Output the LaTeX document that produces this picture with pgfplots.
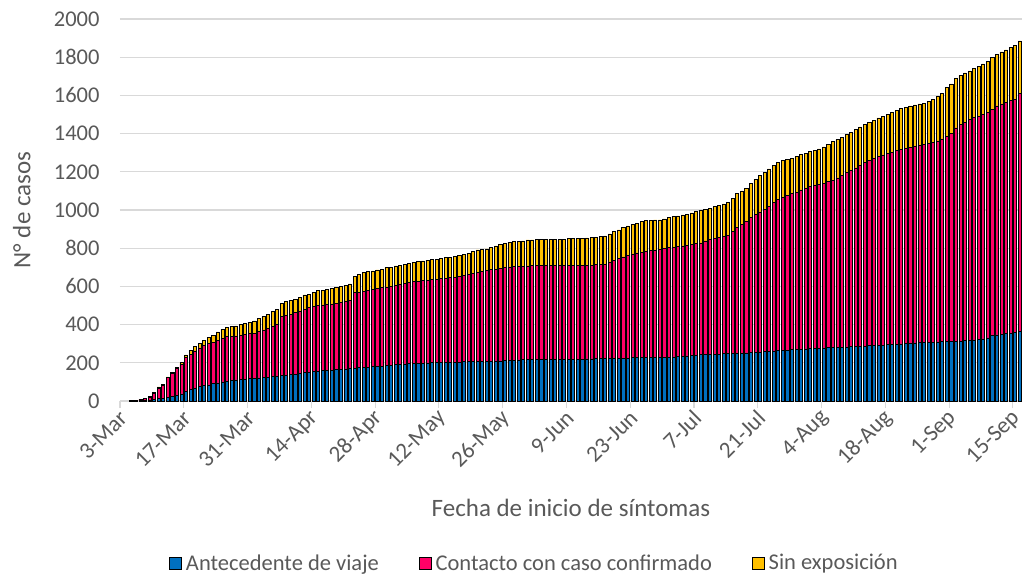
\documentclass[border=0pt]{standalone}
\usepackage{fontspec}
\setmainfont{Carlito}
\usepackage{pgfplots}
\usepackage{pgfplotstable}
\pgfplotsset{compat=1.18}
\definecolor{cblue}{HTML}{0070C0}
\definecolor{cpink}{HTML}{FF0066}
\definecolor{cyel}{HTML}{FFC000}
\definecolor{gridgrey}{HTML}{D9D9D9}
\definecolor{txtgrey}{HTML}{595959}
% d = days since 3-Mar; b = Antecedente de viaje; r = Contacto con caso confirmado; s = Sin exposicion
\pgfplotstableread{
d b r s
0 0 0 0
1 0 0 0
2 0 1 0
3 0 2 1
4 1 7 2
5 2 11 2
6 4 15 4
7 8 32 5
8 12 56 6
9 14 66 6
10 18 104 4
11 23 121 4
12 30 140 4
13 37 155 8
14 49 178 14
15 60 184 19
16 68 194 22
17 75 203 24
18 80 210 28
19 84 216 33
20 90 217 38
21 95 223 44
22 100 228 47
23 103 233 48
24 107 233 49
25 110 231 52
26 113 233 55
27 115 234 58
28 118 236 57
29 119 236 64
30 121 242 70
31 122 250 69
32 125 255 74
33 127 262 79
34 130 273 77
35 132 309 70
36 135 315 70
37 138 317 70
38 141 321 72
39 145 326 72
40 148 332 75
41 150 340 70
42 154 343 70
43 157 344 77
44 159 344 78
45 160 346 79
46 162 346 80
47 164 347 85
48 166 350 86
49 168 354 85
50 169 359 85
51 172 395 87
52 174 396 93
53 176 399 97
54 178 402 97
55 180 404 97
56 182 408 96
57 183 410 98
58 185 412 101
59 188 414 98
60 190 417 100
61 192 418 98
62 194 422 100
63 195 425 101
64 196 428 102
65 197 431 101
66 198 432 103
67 199 433 106
68 200 435 107
69 201 436 106
70 201 439 107
71 202 441 107
72 202 444 106
73 203 445 108
74 204 448 109
75 205 453 110
76 206 458 109
77 207 463 112
78 208 466 117
79 208 470 116
80 209 475 112
81 209 479 117
82 210 481 121
83 210 485 125
84 211 489 125
85 212 490 127
86 213 490 131
87 215 489 131
88 216 490 132
89 217 490 136
90 218 490 135
91 218 491 138
92 218 492 137
93 218 493 137
94 218 493 137
95 218 493 137
96 218 493 137
97 218 493 137
98 218 493 138
99 219 492 139
100 219 492 140
101 219 493 140
102 220 492 142
103 220 492 144
104 221 492 144
105 221 494 145
106 222 495 147
107 223 505 147
108 224 514 149
109 224 521 151
110 225 529 155
111 225 537 155
112 226 544 155
113 226 549 156
114 227 553 159
115 227 557 160
116 228 560 158
117 228 562 158
118 229 566 153
119 229 570 154
120 230 572 158
121 231 574 160
122 232 576 161
123 234 578 162
124 236 580 163
125 238 582 165
126 240 584 167
127 242 586 169
128 243 595 167
129 244 601 165
130 245 607 165
131 246 610 169
132 247 613 172
133 248 618 174
134 249 641 171
135 250 660 175
136 251 674 175
137 252 688 175
138 253 707 180
139 254 721 185
140 256 734 190
141 258 747 190
142 260 760 195
143 262 778 195
144 263 792 195
145 264 801 193
146 266 809 190
147 268 817 187
148 270 823 186
149 272 833 185
150 273 842 183
151 275 850 181
152 276 855 179
153 277 858 185
154 278 862 190
155 279 869 197
156 280 877 201
157 281 887 202
158 282 898 202
159 283 912 200
160 284 921 200
161 285 935 200
162 286 949 200
163 287 963 198
164 289 971 200
165 290 980 200
166 291 989 202
167 293 995 204
168 294 1001 207
169 296 1006 210
170 297 1013 212
171 299 1017 214
172 300 1022 215
173 302 1026 217
174 304 1031 215
175 305 1035 215
176 306 1038 216
177 307 1042 218
178 308 1046 224
179 309 1053 233
180 310 1062 240
181 311 1074 255
182 312 1088 260
183 313 1117 260
184 314 1134 257
185 316 1144 258
186 318 1157 253
187 320 1165 255
188 322 1170 260
189 325 1175 265
190 330 1180 270
191 342 1183 275
192 346 1199 270
193 348 1207 273
194 352 1213 273
195 355 1217 278
196 358 1222 280
197 364 1248 273
}\datatable
\begin{document}
\begin{tikzpicture}
\begin{axis}[
  name=ax,
  scale only axis,
  width=902bp, height=382bp,
  ybar stacked,
  bar width=0.68,
  xmin=-0.5, xmax=197.5,
  ymin=0, ymax=2000,
  enlargelimits=false,
  axis x line*=bottom,
  axis y line*=left,
  y axis line style={draw=none},
  x axis line style={draw=gridgrey, line width=1.2bp},
  ytick={0,200,...,2000},
  ytick style={draw=none},
  xtick={-0.5,13.5,...,195.5},
  xticklabels={3-Mar,17-Mar,31-Mar,14-Apr,28-Apr,12-May,26-May,9-Jun,23-Jun,7-Jul,21-Jul,4-Aug,18-Aug,1-Sep,15-Sep},
  xtick style={draw=gridgrey, line width=1.2bp},
  major tick length=7bp,
  tick align=outside,
  ymajorgrids,
  grid style={draw=gridgrey, line width=1.2bp},
  /pgf/number format/assume math mode=true,
  /pgf/number format/1000 sep={},
  tick label style={font=\fontsize{22.5bp}{27bp}\selectfont, text=txtgrey},
  xlabel={Fecha de inicio de síntomas},
  ylabel={N° de casos},
  label style={font=\fontsize{25bp}{30bp}\selectfont, text=txtgrey},
  xlabel style={at={(axis description cs:0.5,-0.28)}, anchor=center},
  ylabel style={at={(axis description cs:-0.109,0.5)}, anchor=center},
  legend columns=3,
  legend style={draw=none, fill=none, at={(axis description cs:0.4595,-0.424)}, anchor=center,
    font=\fontsize{22.5bp}{27bp}\selectfont, text=txtgrey,
    /tikz/every odd column/.append style={column sep=2bp},
    /tikz/every even column/.append style={column sep=38bp}},
  legend image code/.code={\draw[#1, draw=black, line width=0.8bp] (0bp,-6bp) rectangle (12bp,6bp);},
  every axis plot/.append style={draw=black, line width=0.7bp},
  y tick label style={xshift=-10bp},
  x tick label style={rotate=45, anchor=east, inner sep=0pt, font=\fontsize{23bp}{27bp}\selectfont, xshift=-2bp, yshift=-7bp},
]
\addplot[fill=cblue] table[x=d, y=b]{\datatable};
\addplot[fill=cpink] table[x=d, y=r]{\datatable};
\addplot[fill=cyel] table[x=d, y=s]{\datatable};
\legend{Antecedente de viaje, Contacto con caso confirmado, Sin exposición}
\end{axis}
\pgfresetboundingbox
\path[use as bounding box] ([xshift=-120bp,yshift=-174bp]ax.south west) rectangle ([xshift=1bp,yshift=19bp]ax.north east);
\end{tikzpicture}
\end{document}
